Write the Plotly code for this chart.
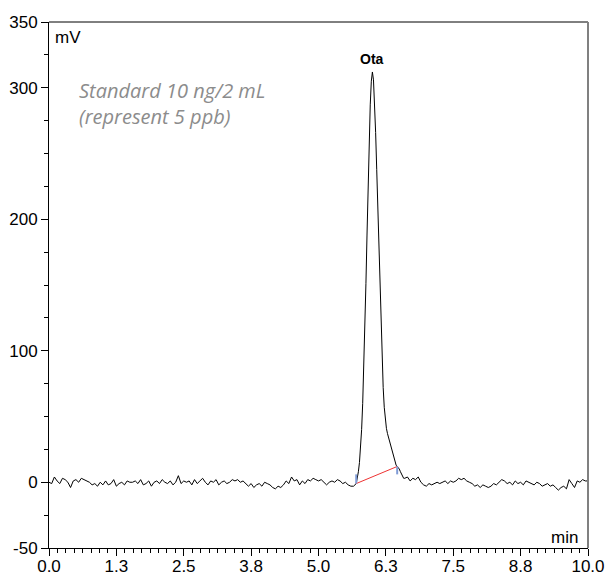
import numpy as np
import plotly.graph_objects as go

# ---------------- data ----------------
# baseline before the peak: 0.00 .. 5.65 min, every 0.05 min
pre_start, pre_step = 0.00, 0.05
pre_values = [
    0, -1, 4, 1, -1, 3, 2, 0, -4, 1, 2, 0, 3, 2, 1, 0, -2, -1, -3, 0,
    -2, 1, -2, -1, 2, -3, -1, 0, -2, 1, 0, 0, 1, -1, 2, -2, -1, 1, -3, 0,
    1, -1, 2, 0, -1, 1, -2, 0, 5, -1, 1, 0, 1, -2, 2, -1, 1, 3, 0, -2,
    1, 0, 2, -2, 0, 1, -1, 0, 2, 1, 2, 0, 1, -1, -3, -1, -4, -2, -1, -3,
    0, -1, -2, -4, -5, -3, -4, -2, 1, -1, 4, 1, 2, -2, 1, -1, 2, 1, 3, 2,
    1, 2, 0, -2, 0, 1, 0, 2, 1, -1, 0, -2, -3, -3,
]
# peak region: 5.70 .. 6.58 min, every 0.02 min
peak_start, peak_step = 5.70, 0.02
peak_values = [
    -1, 3, 8, 15, 25, 40, 60, 85, 116, 151, 188, 226, 260, 287, 305,
    312, 306, 290, 266, 238, 209, 178, 148, 118, 92, 72, 57, 47, 41, 37,
    34, 31, 27, 24, 21, 18, 16, 13, 12, 11, 10, 8, 6, 5, 3,
]
# baseline after the peak: 6.60 .. 10.00 min, every 0.05 min
post_start, post_step = 6.60, 0.05
post_values = [
    3, 4, 1, 3, 2, 4, 0, -2,
    -3, -1, -2, -1, 0, -1, 0, 1, -1, 1, 0, 1, 3, 2, 3, 1, 0, -1, -3, -2,
    -4, -2, -3, -4, -3, -1, -2, 0, 2, 1, -1, 0, -2, 1, -1, 0, -2, 1, 0, -1,
    -2, 0, -1, -3, -2, -1, -3, -2, -4, -6, -4, -3, -5, 2, -1, -4, 1, 0, 2, 1,
    1,
]

peak_name = "Ota"
peak_apex_time = 6.00
integration_start = 5.70
integration_end = 6.46
note_lines = ["Standard 10 ng/2 mL", "(represent 5 ppb)"]

x_tickvals = [0, 1.25, 2.5, 3.75, 5.0, 6.25, 7.5, 8.75, 10.0]
x_ticktext = ["0.0", "1.3", "2.5", "3.8", "5.0", "6.3", "7.5", "8.8", "10.0"]
y_tickvals = [-50, 0, 100, 200, 300, 350]
y_ticktext = ["-50", "0", "100", "200", "300", "350"]

# ---------------- build series ----------------
def times(start, step, n):
    return [round(start + i * step, 4) for i in range(n)]

t = (times(pre_start, pre_step, len(pre_values))
     + times(peak_start, peak_step, len(peak_values))
     + times(post_start, post_step, len(post_values)))
v = pre_values + peak_values + post_values

def value_at(time):
    i = int(np.argmin(np.abs(np.array(t) - time)))
    return t[i], v[i]

t0, v0 = value_at(integration_start)
t1, v1 = value_at(integration_end)
_, apex_v = value_at(peak_apex_time)

fig = go.Figure()
fig.add_trace(go.Scatter(x=t, y=v, mode="lines",
                         line=dict(color="black", width=1), hoverinfo="skip"))
fig.add_trace(go.Scatter(x=[t0, t1], y=[v0, v1], mode="lines",
                         line=dict(color="#ee3333", width=1), hoverinfo="skip"))
fig.add_trace(go.Scatter(x=[t0, t0], y=[v0, v0 + 7], mode="lines",
                         line=dict(color="#7f9bd6", width=2), hoverinfo="skip"))
fig.add_trace(go.Scatter(x=[t1, t1], y=[v1, v1 - 6], mode="lines",
                         line=dict(color="#7f9bd6", width=2), hoverinfo="skip"))

tickfont = dict(family="Liberation Sans, Arial, sans-serif", size=17, color="black")

fig.update_layout(
    width=608, height=577,
    margin=dict(l=49, r=20, t=22, b=29),
    paper_bgcolor="white", plot_bgcolor="white",
    showlegend=False,
    xaxis=dict(range=[0, 10], tickmode="array", tickvals=x_tickvals, ticktext=x_ticktext,
               ticks="outside", ticklen=7, tickwidth=1, tickcolor="black",
               showline=True, linecolor="black", linewidth=1, showgrid=False,
               zeroline=False, tickfont=tickfont, fixedrange=True, automargin=False,
               ticklabelstandoff=-4,
               minor=dict(tickmode="linear", tick0=0, dtick=0.15625, ticks="outside",
                          ticklen=4, tickcolor="black", tickwidth=1, showgrid=False)),
    yaxis=dict(range=[-50, 350], tickmode="array", tickvals=y_tickvals, ticktext=y_ticktext,
               ticks="outside", ticklen=7, tickwidth=1, tickcolor="black",
               showline=True, linecolor="black", linewidth=1, showgrid=False,
               zeroline=False, tickfont=tickfont, fixedrange=True, automargin=False,
               minor=dict(tickmode="linear", tick0=0, dtick=25, ticks="outside",
                          ticklen=4, tickcolor="black", tickwidth=1, showgrid=False)),
)

# frame: top black, right grey
fig.add_shape(type="line", xref="paper", yref="paper", x0=0, x1=1, y0=1, y1=1,
              line=dict(color="black", width=1))
fig.add_shape(type="line", xref="paper", yref="paper", x0=1, x1=1, y0=0, y1=1,
              line=dict(color="#808080", width=2))

lab = dict(family="Liberation Sans, Arial, sans-serif", size=17, color="black")
fig.add_annotation(x=0.07, y=338, xref="x", yref="y", text="mV", showarrow=False,
                   xanchor="left", yanchor="middle", font=lab)
fig.add_annotation(x=9.85, y=-42, xref="x", yref="y", text="min", showarrow=False,
                   xanchor="right", yanchor="middle", font=lab)
fig.add_annotation(x=peak_apex_time, y=apex_v + 10, xref="x", yref="y",
                   text="<b>" + peak_name + "</b>", showarrow=False,
                   xanchor="center", yanchor="middle",
                   font=dict(family="Liberation Sans, Arial, sans-serif", size=14, color="black"))

note = dict(family="Open Sans, sans-serif", size=20, color="#8c8c8c")
fig.add_annotation(x=0.52, y=288, xref="x", yref="y",
                   text="<br>".join("<i>" + s + "</i>" for s in note_lines),
                   showarrow=False, xanchor="left", yanchor="middle", align="left",
                   font=note)

fig.write_html("out.html", config={"displayModeBar": False},
               post_script="document.body.style.margin='0';")
